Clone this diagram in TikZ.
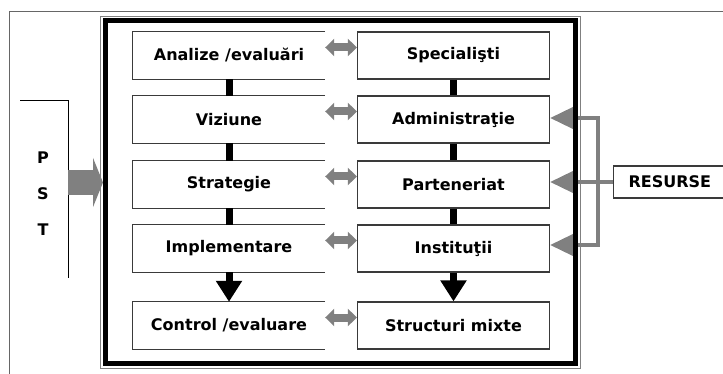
\documentclass[tikz,border=0pt]{standalone}
\usepackage{fontspec}
\setmainfont{DejaVu Sans}
\usetikzlibrary{calc, positioning, arrows.meta, backgrounds}
\definecolor{arrowgray}{HTML}{808080}
\definecolor{boxgray}{HTML}{3A3A3A}

\begin{document}
\begin{tikzpicture}[x=1pt, y=-1pt, >=Stealth,
  font=\fontsize{16}{19}\selectfont\bfseries,
  block/.style={minimum width=192pt, minimum height=47pt, inner sep=0pt},
  boxline/.style={boxgray, line width=1.2pt},
  link/.style={line width=7pt},
  flow/.style={line width=7pt, -{Triangle[width=25pt,length=21pt]}},
  swap/.style={arrowgray, line width=8pt, {Triangle[width=17pt,length=9pt]}-{Triangle[width=17pt,length=9pt]}},
  feed/.style={arrowgray, line width=4pt, -{Triangle[width=22pt,length=24pt]}}]

  \useasboundingbox (0,0) rectangle (723,374);

  % Page frame
  \draw[gray!80!black, line width=1pt] (723,12) -- (9,12) -- (9,374);

  % Main frame
  \draw[gray, line width=0.8pt] (100,16.5) rectangle (580.5,368);
  \node[draw, line width=5pt, minimum width=470pt, minimum height=343pt, inner sep=0pt] (frame) at (340.5,192) {};

  % Blocks
  \node[block] (an) at (229,55.5) {Analize /evaluări};
  \node[block] (vi) at (229,119.5) {Viziune};
  \node[block] (st) at (229,184.5) {Strategie};
  \node[block] (im) at (229,248.5) {Implementare};
  \node[block] (co) at (229,325.5) {Control /evaluare};
  \foreach \b in {an,vi,st,im,co}
    \draw[boxline] (\b.north east) -- (\b.north west) -- (\b.south west) -- (\b.south east);

  \node[block, draw=boxgray, line width=1.2pt] (sp) at (453.5,55.5) {Specialişti};
  \node[block, draw=boxgray, line width=1.2pt] (adm) at (453.5,119.5) {Administraţie};
  \node[block, draw=boxgray, line width=1.2pt] (par) at (453.5,184.5) {Parteneriat};
  \node[block, draw=boxgray, line width=1.2pt] (ins) at (453.5,248.5) {Instituţii};
  \node[block, draw=boxgray, line width=1.2pt] (smx) at (453.5,325.5) {Structuri mixte};

  % Links between blocks
  \draw[link] (an) -- (vi);
  \draw[link] (vi) -- (st);
  \draw[link] (st) -- (im);
  \draw[flow] (im) -- (co);
  \draw[link] (sp) -- (adm);
  \draw[link] (adm) -- (par);
  \draw[link] (par) -- (ins);
  \draw[flow] (ins) -- (smx);

  % Exchanges between columns
  \foreach \l/\r in {an/sp, vi/adm, st/par, im/ins, co/smx}
    \draw[swap] ([yshift=8pt]\l.east) -- ([yshift=8pt]\r.west);

  % PST input
  \draw[line width=1pt] (20,101) -- (68,101) -- (68,278);
  \node (p) at (43,158) {P};
  \node (s) at (43,194) {S};
  \node (t) at (43,230) {T};
  \coordinate (pst) at (68,182.5);
  \draw[arrowgray, line width=25pt, -{Triangle[width=49pt,length=10pt]}] (pst) -- (pst -| frame.west);

  % Resources
  \node[draw=boxgray, line width=1.2pt, anchor=west, minimum height=32pt, inner xsep=15pt,
    text width=85pt, align=left] (res) at (613,182) {RESURSE};
  \coordinate (b1) at (598,118);
  \coordinate (b3) at (598,245);
  \begin{scope}[on background layer]
    \draw[arrowgray, line width=4pt] (b1 -| frame.east) -- (b1) -- (b3) -- (b3 -| frame.east);
    \draw[feed] (b1) -- (b1 -| adm.east);
    \draw[feed] (res.west) -- (res.west -| par.east);
    \draw[feed] (b3) -- (b3 -| ins.east);
  \end{scope}

\end{tikzpicture}
\end{document}
